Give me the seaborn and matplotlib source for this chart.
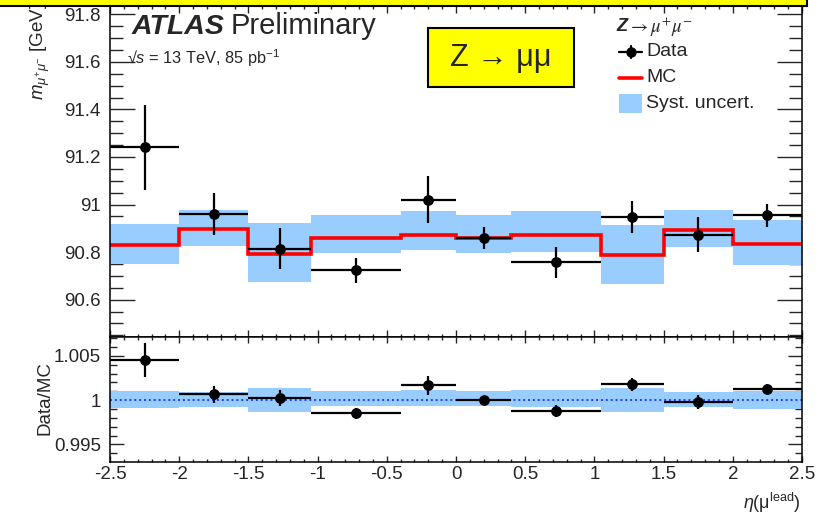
import numpy as np
import pandas as pd
import matplotlib
matplotlib.use("Agg")
import matplotlib.pyplot as plt
import seaborn as sns
from matplotlib.patches import Rectangle
from matplotlib.lines import Line2D
from matplotlib.ticker import MultipleLocator

# ---------------- data ----------------
bin_edges = [-2.5, -2.0, -1.5, -1.05, -0.4, 0.0, 0.4, 1.05, 1.5, 2.0, 2.5]
data_mass = [91.240, 90.961, 90.815, 90.724, 91.021, 90.861, 90.758, 90.948, 90.874, 90.954]
data_err = [0.178, 0.087, 0.086, 0.053, 0.098, 0.046, 0.065, 0.068, 0.075, 0.047]
mc_mass = [90.828, 90.899, 90.794, 90.861, 90.870, 90.860, 90.870, 90.786, 90.891, 90.836]
syst_up = [90.920, 90.979, 90.923, 90.958, 90.971, 90.954, 90.971, 90.912, 90.979, 90.933]
syst_down = [90.751, 90.825, 90.676, 90.796, 90.810, 90.797, 90.800, 90.667, 90.821, 90.744]
top_yticks = [90.6, 90.8, 91.0, 91.2, 91.4, 91.6, 91.8]
top_yticklabels = ["90.6", "90.8", "91", "91.2", "91.4", "91.6", "91.8"]
ratio_yticks = [0.995, 1.0, 1.005]
ratio_yticklabels = ["0.995", "1", "1.005"]
xticks = [-2.5, -2, -1.5, -1, -0.5, 0, 0.5, 1, 1.5, 2, 2.5]
xticklabels = ["-2.5", "-2", "-1.5", "-1", "-0.5", "0", "0.5", "1", "1.5", "2", "2.5"]

edges = np.array(bin_edges)
centers = 0.5 * (edges[:-1] + edges[1:])
halfw = 0.5 * (edges[1:] - edges[:-1])
data = np.array(data_mass)
derr = np.array(data_err)
mc = np.array(mc_mass)
sup = np.array(syst_up)
sdn = np.array(syst_down)

df = pd.DataFrame({"eta": centers, "mass": data, "err": derr,
                   "ratio": data / mc, "rerr": derr / mc})

# ---------------- style ----------------
sns.set_theme(style="ticks")
plt.rcParams["font.family"] = ["Liberation Sans", "DejaVu Sans"]
plt.rcParams["mathtext.fontset"] = "custom"
plt.rcParams["mathtext.rm"] = "Liberation Sans"
plt.rcParams["mathtext.it"] = "Liberation Sans:italic"
plt.rcParams["mathtext.bf"] = "Liberation Sans:bold"
plt.rcParams["axes.unicode_minus"] = False

W, H = 823, 517
fig = plt.figure(figsize=(W / 100, H / 100), dpi=100)

def fx(px):
    return px / W

def fy(py):
    return 1 - py / H

L, R = 110, 802
ax = fig.add_axes([fx(L), fy(337), fx(R) - fx(L), fy(6) - fy(337)])
axr = fig.add_axes([fx(L), fy(461.7), fx(R) - fx(L), fy(337) - fy(461.7)])

BAND = "#99ccff"

# ---------------- top panel ----------------
ax.stairs(sup, edges, baseline=sdn, fill=True, color=BAND, lw=0, zorder=1)
ax.stairs(mc, edges, baseline=None, color="#ff0000", lw=2.6, zorder=2)
ax.errorbar(df["eta"], df["mass"], xerr=halfw, yerr=df["err"], fmt="none",
            ecolor="black", elinewidth=1.6, capsize=0, zorder=3)
sns.scatterplot(data=df, x="eta", y="mass", ax=ax, color="black", s=60,
                marker="o", edgecolor="black", linewidth=0, zorder=4, legend=False)

ax.set_xlim(-2.5, 2.5)
ax.set_ylim(90.443, 91.835)
ax.set_yticks(top_yticks)
ax.set_yticklabels(top_yticklabels)
ax.yaxis.set_minor_locator(MultipleLocator(0.05))
ax.set_xticks(xticks)
ax.set_xticklabels([])
ax.xaxis.set_minor_locator(MultipleLocator(0.1))
ax.set_xlabel("")
ax.set_ylabel("")
ax.tick_params(axis="y", which="major", direction="in", length=18, width=1,
               left=True, right=True, labelsize=13.5, pad=6.5)
ax.tick_params(axis="y", which="minor", direction="in", length=9.4, width=1,
               left=True, right=True)
ax.tick_params(axis="x", which="major", direction="in", length=5, width=1,
               top=True, bottom=True)
ax.tick_params(axis="x", which="minor", direction="in", length=2.4, width=1,
               top=True, bottom=True)

# ---------------- ratio panel ----------------
axr.stairs(sup / mc, edges, baseline=sdn / mc, fill=True, color=BAND, lw=0, zorder=1)
axr.axhline(1.0, color="#1f3fff", lw=1.4, ls=(0, (1, 1.5)), zorder=2)
axr.errorbar(df["eta"], df["ratio"], xerr=halfw, yerr=df["rerr"], fmt="none",
             ecolor="black", elinewidth=1.6, capsize=0, zorder=3)
sns.scatterplot(data=df, x="eta", y="ratio", ax=axr, color="black", s=60,
                marker="o", edgecolor="black", linewidth=0, zorder=4, legend=False)
axr.set_xlim(-2.5, 2.5)
axr.set_ylim(0.99304, 1.00714)
axr.set_yticks(ratio_yticks)
axr.set_yticklabels(ratio_yticklabels)
axr.yaxis.set_minor_locator(MultipleLocator(0.001))
axr.set_xticks(xticks)
axr.set_xticklabels(xticklabels)
axr.xaxis.set_minor_locator(MultipleLocator(0.1))
axr.set_xlabel("")
axr.set_ylabel("")
axr.tick_params(axis="y", which="major", direction="in", length=10, width=1,
                left=True, right=True, labelsize=13.5, pad=6.5)
axr.tick_params(axis="y", which="minor", direction="in", length=5, width=1,
                left=True, right=True)
axr.tick_params(axis="x", which="major", direction="in", length=4, width=1,
                top=True, bottom=True, labelsize=13.5, pad=3)
axr.tick_params(axis="x", which="minor", direction="in", length=2.2, width=1,
                top=True, bottom=True)

for a in (ax, axr):
    for s in a.spines.values():
        s.set_linewidth(1.1)
        s.set_color("black")
        s.set_visible(True)

# ---------------- texts ----------------
fig.text(fx(131.7), fy(33.5), "ATLAS", fontsize=20.5, fontweight="bold",
         fontstyle="italic", va="baseline", ha="left")
fig.text(fx(231), fy(33.5), "Preliminary", fontsize=21, va="baseline", ha="left")
fig.text(fx(127), fy(64), "√$s$ = 13 TeV, 85 pb$^{-1}$", fontsize=11.8,
         va="baseline", ha="left")

# yellow box
fig.add_artist(Rectangle((fx(428.3), fy(87.3)), fx(574) - fx(428.3), fy(28.3) - fy(87.3),
                         transform=fig.transFigure, facecolor="#ffff00",
                         edgecolor="black", lw=1.5, zorder=5))
fig.text(fx(501), fy(58), "Z → μμ", fontsize=22, ha="center", va="center", zorder=6,
         family=["Liberation Sans", "DejaVu Sans"])

# legend (manual)
fig.text(fx(616), fy(27), "Z", fontsize=13, fontweight="bold", fontstyle="italic",
         ha="left", va="center")
fig.text(fx(628), fy(27), r"$\rightarrow\mu^{+}\mu^{-}$", fontsize=13.5,
         ha="left", va="center", math_fontfamily="stix")
fig.add_artist(Line2D([fx(619), fx(642)], [fy(52), fy(52)], transform=fig.transFigure,
                      color="black", lw=1.6))
fig.add_artist(Line2D([fx(630.5), fx(630.5)], [fy(46), fy(58)], transform=fig.transFigure,
                      color="black", lw=1.6))
fig.add_artist(Line2D([fx(630.5)], [fy(52)], transform=fig.transFigure, color="black",
                      marker="o", markersize=6.5, lw=0))
fig.text(fx(646), fy(52), "Data", fontsize=14, ha="left", va="center")
fig.add_artist(Line2D([fx(619), fx(642)], [fy(78), fy(78)], transform=fig.transFigure,
                      color="#ff0000", lw=2.6))
fig.text(fx(646), fy(78), "MC", fontsize=14, ha="left", va="center")
fig.add_artist(Rectangle((fx(618.5), fy(113)), fx(642) - fx(618.5), fy(94) - fy(113),
                         transform=fig.transFigure, facecolor=BAND, lw=0))
fig.text(fx(646), fy(103.5), "Syst. uncert.", fontsize=14, ha="left", va="center")

# axis labels
fig.text(fx(40), fy(100), r"$m_{\mu^{+}\mu^{-}}$ [GeV]", fontsize=13.5, rotation=90,
         ha="center", va="bottom")
fig.text(fx(45), fy(398), "Data/MC", fontsize=13.5, rotation=90, ha="center", va="center")
fig.text(fx(801), fy(515), r"$\eta$(μ$^{\rm lead}$)", fontsize=13, ha="right",
         va="bottom")

# yellow banner at very top
fig.add_artist(Rectangle((fx(-5), fy(6)), fx(806.7) - fx(-5), fy(-10) - fy(6),
                         transform=fig.transFigure, facecolor="#ffff00",
                         edgecolor="black", lw=1.5, zorder=10))

fig.savefig("out.png", dpi=100)
